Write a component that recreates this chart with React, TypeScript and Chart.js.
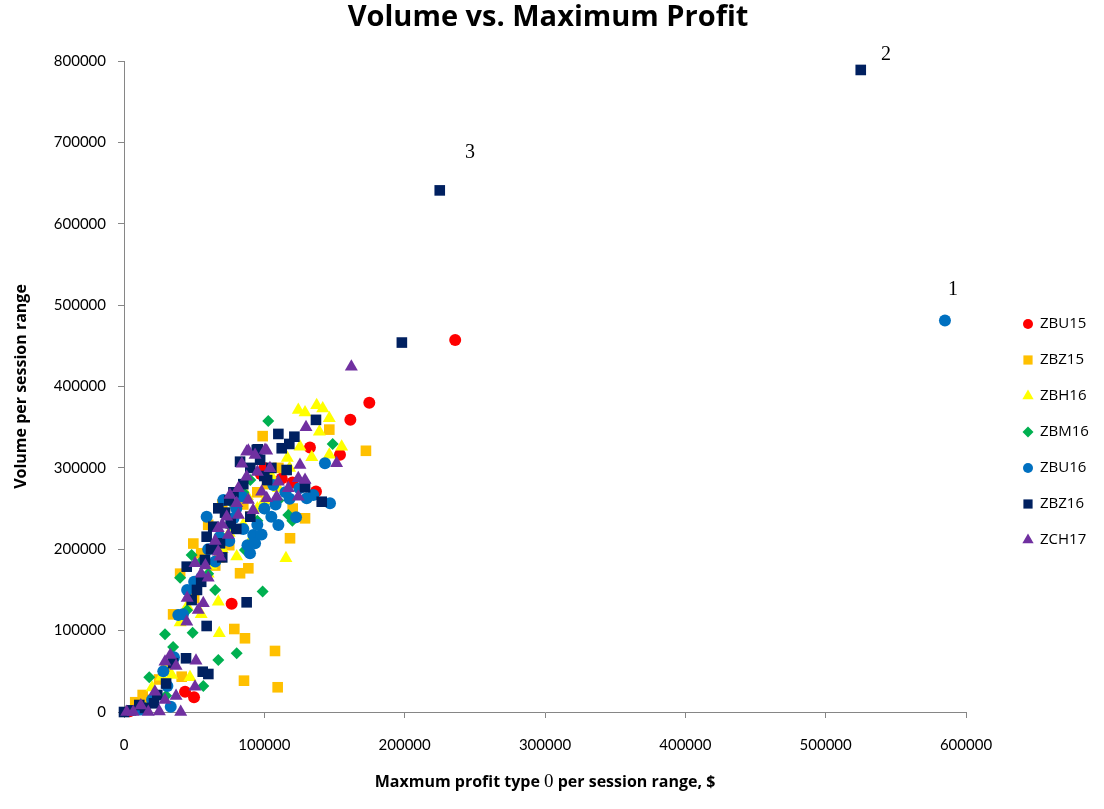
import { useEffect, useRef } from "react";
import { Chart, registerables } from "chart.js";
import { drawPoint } from "chart.js/helpers";

Chart.register(...registerables);

const SANS = "Lato, 'Noto Sans', sans-serif";
const WIDE = "'Open Sans', 'Noto Sans', sans-serif";
const SERIF = "'Liberation Serif', 'DejaVu Serif', serif";

// series names and their [profit, volume] points
const seriesNames = ["ZBU15", "ZBZ15", "ZBH16", "ZBM16", "ZBU16", "ZBZ16", "ZCH17"];

const zbu15: [number, number][] = [
  [236000, 457000], [174800, 380000], [161300, 359000], [132500, 325000], [153900, 316000],
  [136800, 271000], [97400, 292500], [112400, 287000], [76700, 133000], [43500, 25000],
  [49900, 18000], [100000, 300000], [4000, 1000], [120000, 282000]
];

const zbz15: [number, number][] = [
  [146300, 347000], [98800, 339000], [172400, 321000], [129000, 238000], [120200, 250000],
  [118300, 213500], [49400, 207000], [88600, 176600], [82700, 170500], [78600, 102000],
  [86200, 90600], [107600, 75000], [85500, 38500], [109500, 30400], [41100, 43400],
  [13300, 20900], [70000, 255000], [60000, 230000], [95000, 270000], [110000, 300000],
  [40000, 170000], [35000, 120000], [25000, 40000], [8000, 12000], [90000, 240000],
  [75000, 205000], [55000, 195000], [65000, 180000], [102000, 280000], [85000, 255000],
  [68000, 190000], [50000, 140000], [30000, 55000], [18000, 15000]
];

const zbh16: [number, number][] = [
  [137300, 377000], [141600, 373000], [124200, 371000], [129000, 368000], [146300, 361000],
  [139200, 344500], [125400, 326000], [133800, 313000], [146300, 316000], [116400, 312000],
  [155100, 326000], [115400, 189000], [67200, 135600], [67900, 96700], [80300, 191000],
  [26800, 43400], [34000, 45500], [47000, 42600], [110000, 275000], [95000, 250000],
  [85000, 230000], [70000, 200000], [60000, 170000], [50000, 150000], [40000, 110000],
  [100000, 260000], [75000, 220000], [20000, 30000], [10000, 5000], [55000, 120000],
  [90000, 210000], [105000, 290000], [118000, 300000], [88000, 265000], [62000, 180000],
  [45000, 130000], [32000, 60000]
];

const zbm16: [number, number][] = [
  [102800, 357600], [148700, 329400], [117100, 242000], [86200, 199100], [48200, 192900],
  [98800, 148000], [29200, 95500], [48900, 97500], [80300, 72100], [67200, 63900],
  [18000, 42600], [56500, 32000], [85000, 270000], [95000, 235000], [75000, 230000],
  [60000, 170000], [110000, 260000], [40000, 165000], [65000, 150000], [30000, 20000],
  [15000, 5000], [120000, 235000], [90000, 285000], [78000, 255000], [70000, 215000],
  [55000, 185000], [45000, 125000], [100000, 250000], [35000, 80000]
];

const zbu16: [number, number][] = [
  [585000, 481000], [143200, 305700], [134900, 266700], [130200, 262600], [146800, 256500],
  [122600, 239300], [110000, 229800], [106400, 279000], [92100, 217500], [93400, 207300],
  [89800, 195000], [70800, 260500], [58900, 240000], [38700, 119200], [35600, 67200],
  [30900, 32000], [33300, 6500], [100000, 250000], [85000, 225000], [75000, 210000],
  [65000, 185000], [55000, 165000], [115000, 270000], [80000, 250000], [45000, 150000],
  [105000, 240000], [20000, 15000], [60000, 200000], [95000, 230000], [84000, 265000],
  [78000, 238000], [68000, 215000], [50000, 160000], [42000, 120000], [28000, 50000],
  [12000, 3000], [108000, 255000], [118000, 262000], [98000, 218000], [88000, 205000],
  [125000, 275000]
];

const zbz16: [number, number][] = [
  [525000, 789000], [225000, 641000], [198000, 454000], [136800, 359000], [110000, 341700],
  [121400, 338300], [117800, 329400], [112400, 324100], [95300, 322800], [94600, 322000],
  [82700, 307600], [115900, 297400], [129000, 276200], [140900, 258400], [67200, 250300],
  [63600, 227700], [58900, 215400], [68400, 207300], [44700, 178600], [57700, 186800],
  [87400, 134800], [48200, 137600], [58900, 105700], [44200, 66000], [56100, 49500],
  [60100, 46700], [23700, 20900], [21400, 10700], [10900, 8600], [0, 0],
  [100000, 290000], [85000, 280000], [105000, 300000], [75000, 260000], [90000, 240000],
  [80000, 225000], [70000, 190000], [55000, 160000], [72000, 245000], [78000, 270000],
  [90000, 300000], [97000, 310000], [62000, 200000], [52000, 150000], [35000, 60000],
  [30000, 35000], [15000, 5000], [5000, 2000], [102000, 285000], [76000, 232000]
];

const zch17: [number, number][] = [
  [162000, 424400], [129700, 350000], [88600, 321100], [101700, 321100], [87400, 319900],
  [100500, 322000], [93400, 315900], [125400, 303600], [104000, 299500], [87400, 289200],
  [124200, 287200], [129000, 285100], [117100, 274900], [98100, 270700], [101700, 262600],
  [108800, 264600], [124200, 264600], [81500, 274900], [88600, 260500], [75500, 266700],
  [80300, 256500], [73200, 240000], [81500, 242100], [67100, 225800], [74400, 217500],
  [67100, 197000], [50600, 182700], [68400, 190900], [56500, 133600], [52900, 125400],
  [44700, 111000], [29200, 61800], [37100, 56500], [51300, 63100], [50600, 31100],
  [37100, 19700], [40400, 0], [1900, 0], [6600, 0], [17300, 0], [25200, 500],
  [29200, 14700], [151500, 305700], [60000, 165000], [55000, 170000], [65000, 210000],
  [58000, 180000], [45000, 140000], [33000, 70000], [22000, 25000], [12000, 8000],
  [95000, 295000], [110000, 283000], [84000, 305000], [70000, 230000], [92000, 248000]
];

const seriesPoints = [zbu15, zbz15, zbh16, zbm16, zbu16, zbz16, zch17];

// axis ticks
const xTicks = [0, 100000, 200000, 300000, 400000, 500000, 600000];
const yTicks = [0, 100000, 200000, 300000, 400000, 500000, 600000, 700000, 800000];

// numbered callouts near the outliers
const calloutLabels = ["1", "2", "3"];
const calloutX = [590700, 543000, 246600];
const calloutY = [518600, 807500, 687000];

const chartTitle = "Volume vs. Maximum Profit";
const xTitleBefore = "Maxmum profit type ";
const xTitleDigit = "0";
const xTitleAfter = " per session range, $";

const colors = ["#FF0000", "#FFC000", "#FFFF00", "#00B050", "#0070C0", "#002060", "#7030A0"];
const pointStyles = ["circle", "rect", "triangle", "rectRot", "circle", "rect", "triangle"];
const pointSizes = [6, 7.5, 7.5, 6, 6, 7.5, 7.5];
const legendSizes = [5, 6.5, 6.5, 5.5, 5, 6.5, 6.5];

// title is drawn here so it centres on the whole canvas, not just left of the legend
const topTitle = {
  id: "topTitle",
  afterDraw(chart: any) {
    const ctx = chart.ctx;
    ctx.save();
    ctx.fillStyle = "#000";
    ctx.font = `bold 29px ${WIDE}`;
    ctx.textAlign = "center";
    ctx.textBaseline = "middle";
    ctx.fillText(chartTitle, chart.width / 2 - 4, 18);
    ctx.restore();
  }
};

const sideLegend = {
  id: "sideLegend",
  afterDraw(chart: any) {
    const ctx = chart.ctx;
    const x = chart.chartArea.right + 62;
    ctx.save();
    seriesNames.forEach((name, i) => {
      const y = 324 + i * 36;
      ctx.fillStyle = colors[i];
      drawPoint(ctx, { pointStyle: pointStyles[i], radius: legendSizes[i], rotation: 0, borderWidth: 0 } as any, x, y);
      ctx.fillStyle = "#000";
      ctx.font = `15px ${WIDE}`;
      ctx.textBaseline = "middle";
      ctx.textAlign = "left";
      ctx.fillText(name, x + 12, y);
    });
    ctx.restore();
  }
};

const xTitle = {
  id: "xTitle",
  afterDraw(chart: any) {
    const ctx = chart.ctx;
    const { left, right } = chart.chartArea;
    const bold = `bold 16px ${WIDE}`;
    const serif = `19px ${SERIF}`;
    ctx.save();
    ctx.fillStyle = "#000";
    ctx.textBaseline = "alphabetic";
    ctx.textAlign = "left";
    ctx.font = bold;
    const w1 = ctx.measureText(xTitleBefore).width;
    const w3 = ctx.measureText(xTitleAfter).width;
    ctx.font = serif;
    const w2 = ctx.measureText(xTitleDigit).width;
    let x = (left + right) / 2 - (w1 + w2 + w3) / 2;
    const y = 787;
    ctx.font = bold;
    ctx.fillText(xTitleBefore, x, y);
    x += w1;
    ctx.font = serif;
    ctx.fillText(xTitleDigit, x, y);
    x += w2;
    ctx.font = bold;
    ctx.fillText(xTitleAfter, x, y);
    ctx.restore();
  }
};

const callouts = {
  id: "callouts",
  afterDraw(chart: any) {
    const ctx = chart.ctx;
    const xs = chart.scales.x;
    const ys = chart.scales.y;
    ctx.save();
    ctx.fillStyle = "#000";
    ctx.font = `20px ${SERIF}`;
    ctx.textAlign = "center";
    ctx.textBaseline = "middle";
    calloutLabels.forEach((t, i) => {
      ctx.fillText(t, xs.getPixelForValue(calloutX[i]), ys.getPixelForValue(calloutY[i]));
    });
    ctx.restore();
  }
};

export default function App() {
  const chartRef = useRef<HTMLCanvasElement>(null);
  const chartInstance = useRef<Chart | null>(null);

  useEffect(() => {
    if (!chartRef.current) return;
    if (chartInstance.current) chartInstance.current.destroy();

    const axisColor = "#868686";

    chartInstance.current = new Chart(chartRef.current, {
      type: "scatter",
      data: {
        datasets: seriesNames.map((name, i) => ({
          label: name,
          data: seriesPoints[i].map(([x, y]) => ({ x, y })),
          pointStyle: pointStyles[i] as any,
          pointRadius: pointSizes[i],
          pointHoverRadius: pointSizes[i],
          pointBackgroundColor: colors[i],
          pointBorderColor: colors[i],
          pointBorderWidth: 0,
          showLine: false,
          clip: false as any,
          order: seriesNames.length - i
        }))
      },
      options: {
        animation: false,
        responsive: true,
        maintainAspectRatio: false,
        layout: { padding: { left: 0, right: 138, top: 61, bottom: 0 } },
        plugins: {
          legend: { display: false },
          tooltip: { enabled: false },
          title: { display: false }
        },
        scales: {
          x: {
            type: "linear",
            min: 0,
            max: 600000,
            afterBuildTicks: (scale: any) => {
              scale.ticks = xTicks.map((v) => ({ value: v }));
            },
            afterFit: (scale: any) => {
              scale.height = 97;
            },
            border: { display: true, color: axisColor, width: 1 },
            grid: { display: true, drawOnChartArea: false, drawTicks: true, tickLength: 6, color: axisColor },
            ticks: {
              color: "#000",
              padding: 18,
              maxRotation: 0,
              font: { family: SANS, size: 15 },
              callback: (value: any) => String(value)
            }
          },
          y: {
            type: "linear",
            min: 0,
            max: 800000,
            afterBuildTicks: (scale: any) => {
              scale.ticks = yTicks.map((v) => ({ value: v }));
            },
            afterFit: (scale: any) => {
              scale.width = 124;
            },
            border: { display: true, color: axisColor, width: 1 },
            grid: { display: true, drawOnChartArea: false, drawTicks: true, tickLength: 6, color: axisColor },
            ticks: {
              color: "#000",
              padding: 12,
              font: { family: SANS, size: 15 },
              callback: (value: any) => String(value)
            },
            title: {
              display: true,
              text: "Volume per session range",
              color: "#000",
              font: { family: WIDE, size: 16, weight: "bold" },
              padding: { top: 12, bottom: 0 }
            }
          }
        }
      },
      plugins: [topTitle, sideLegend, xTitle, callouts]
    });

    return () => {
      if (chartInstance.current) {
        chartInstance.current.destroy();
        chartInstance.current = null;
      }
    };
  }, []);

  return (
    <div style={{ position: "absolute", left: 0, top: 0, width: 1104, height: 809, background: "#fff" }}>
      <canvas ref={chartRef} />
    </div>
  );
}
